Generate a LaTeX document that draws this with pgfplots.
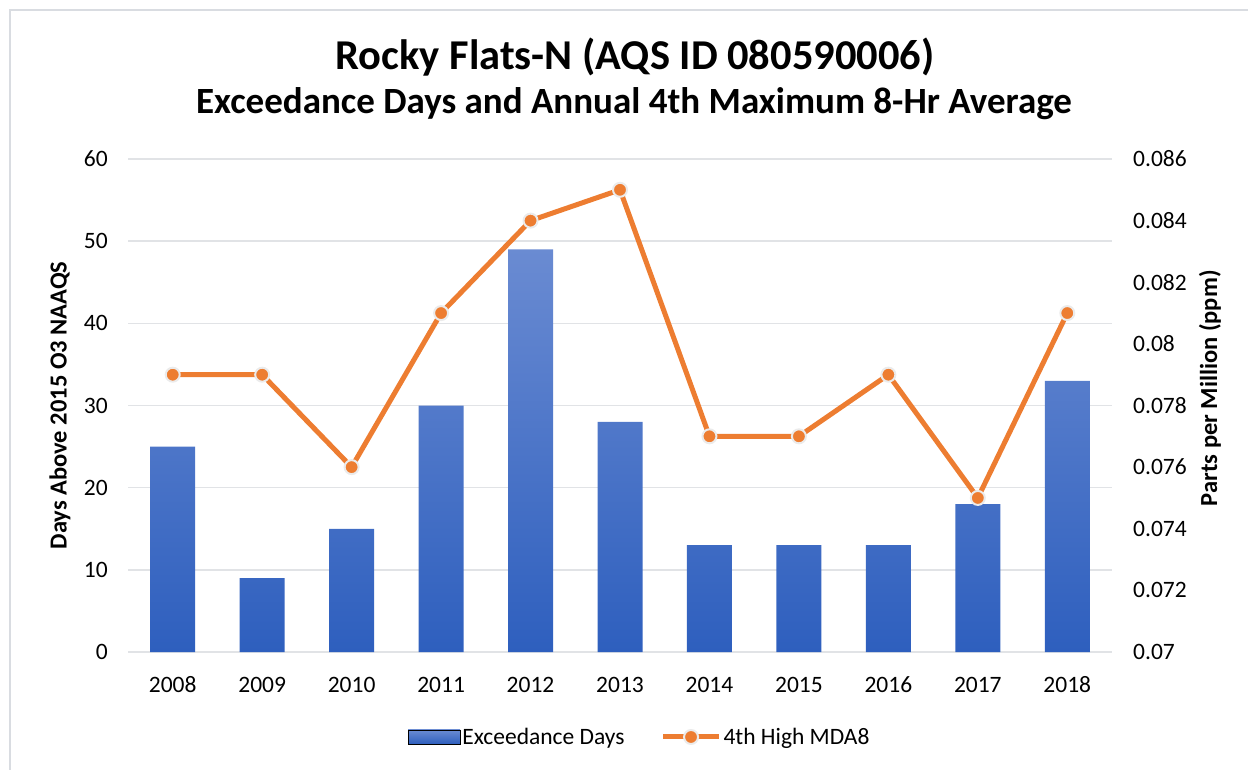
\documentclass[border=0pt]{standalone}
\usepackage{pgfplots}
\pgfplotsset{compat=1.18}
\usepackage{fontspec}
\setmainfont{Carlito}

\definecolor{barTop}{HTML}{6A8BD2}
\definecolor{barBot}{HTML}{2E5FBE}
\definecolor{lineOr}{HTML}{ED7D31}
\definecolor{markRing}{HTML}{EBEBEB}
\definecolor{gridGray}{HTML}{E1E3E6}
\definecolor{frameGray}{HTML}{D9DCE1}

\tikzset{
  mdastyle/.style={lineOr, line width=5pt, mark=*, mark size=7pt,
    mark options={fill=lineOr, draw=markRing, line width=2pt}},
}
\pgfplotsset{
  base/.style={
    at={(128pt,117pt)}, anchor=south west,
    scale only axis, width=984pt, height=493pt,
    xmin=-0.5, xmax=10.5,
    axis line style={draw=none},
    tick style={draw=none}, major tick length=0pt,
    tick label style={font=\fontsize{23.5}{28}\selectfont, inner sep=0pt},
    /pgf/number format/assume math mode=true,
  },
}

\begin{document}
\begin{tikzpicture}[x=1pt,y=1pt]
\useasboundingbox (0,0) rectangle (1248,769);
\draw[frameGray, line width=1.5pt] (10,-10) rectangle (1260,759);

\node[font=\fontsize{42.5}{48}\selectfont\bfseries] at (635,712) {Rocky Flats-N (AQS ID 080590006)};
\node[font=\fontsize{37}{42}\selectfont\bfseries] at (634,665) {Exceedance Days and Annual 4th Maximum 8-Hr Average};

% bars, left axis
\begin{axis}[
  base,
  ymin=0, ymax=60,
  xtick={0,...,10},
  xticklabels={2008,2009,2010,2011,2012,2013,2014,2015,2016,2017,2018},
  xticklabel style={anchor=center, yshift=-33pt},
  ytick={0,10,20,30,40,50,60},
  yticklabels={0,10,20,30,40,50,60},
  yticklabel style={anchor=east, xshift=-20pt},
  ymajorgrids, grid style={gridGray, line width=1.5pt},
  every axis y label/.style={at={(axis description cs:-0.0691,0.5)}, rotate=90, anchor=center,
    font=\fontsize{24.5}{28}\selectfont\bfseries},
  ylabel={Days Above 2015 O3 NAAQS},
]
\addplot[ybar, bar width=45pt, draw=none, top color=barTop, bottom color=barBot]
  coordinates {(0,25) (1,9) (2,15) (3,30) (4,49) (5,28) (6,13) (7,13) (8,13) (9,18) (10,33)};
\end{axis}

% line, right axis
\begin{axis}[
  base,
  ymin=0.07, ymax=0.086,
  hide x axis,
  scaled y ticks=false,
  yticklabel pos=right,
  ytick={0.07,0.072,0.074,0.076,0.078,0.08,0.082,0.084,0.086},
  yticklabels={0.07,0.072,0.074,0.076,0.078,0.08,0.082,0.084,0.086},
  yticklabel style={anchor=west, xshift=21pt},
  every axis y label/.style={at={(axis description cs:1.0996,0.535)}, rotate=90, anchor=center,
    font=\fontsize{24.5}{28}\selectfont\bfseries},
  ylabel={Parts per Million (ppm)},
  legend style={at={(0.520,-0.1724)}, anchor=center, draw=none, fill=none,
    legend columns=2, font=\fontsize{23.5}{28}\selectfont,
    /tikz/every even column/.append style={column sep=34pt}},
  legend cell align=left,
]
\addlegendimage{legend image code/.code={\fill[top color=barTop, bottom color=barBot] (-3pt,-7pt) rectangle (49pt,7pt);}}
\addlegendentry{Exceedance Days}
\addplot[mdastyle,
  legend image code/.code={\draw[mdastyle, mark repeat=2, mark phase=2] plot coordinates {(0pt,0pt) (28pt,0pt) (56pt,0pt)};}]
  coordinates {(0,0.079) (1,0.079) (2,0.076) (3,0.081) (4,0.084) (5,0.085) (6,0.077) (7,0.077) (8,0.079) (9,0.075) (10,0.081)};
\addlegendentry{4th High MDA8}
\end{axis}
\end{tikzpicture}
\end{document}
